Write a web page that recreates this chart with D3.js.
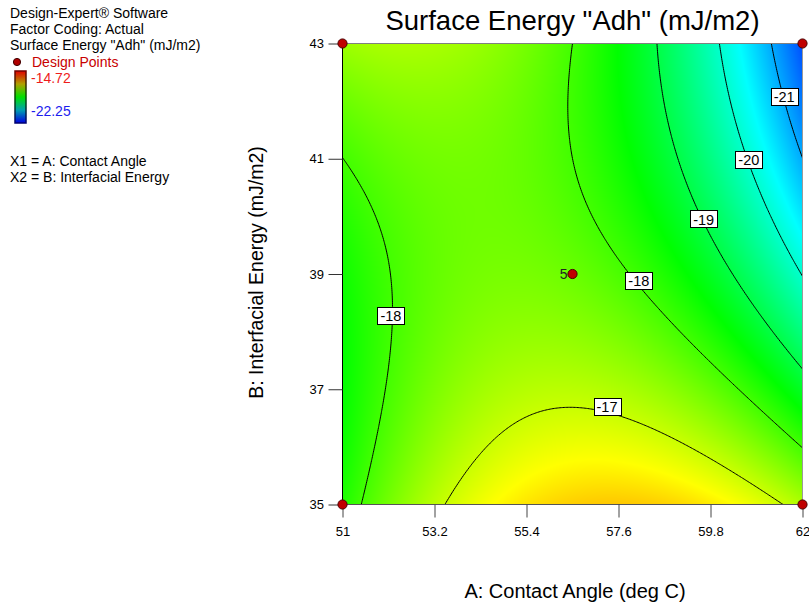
<!DOCTYPE html>
<html><head><meta charset="utf-8">
<script src="https://cdn.jsdelivr.net/npm/d3@7"></script>
<style>
body{margin:0;background:#fff}
svg{display:block;font-family:Arial,"Liberation Sans",sans-serif}
</style>
</head><body>
<svg id="chart" width="809" height="607"></svg>
<script>
// ---------------- data ----------------
const chartTitle = 'Surface Energy "Adh" (mJ/m2)';
const xTitle = "A: Contact Angle (deg C)";
const yTitle = "B: Interfacial Energy (mJ/m2)";
const xTicks = [51, 53.2, 55.4, 57.6, 59.8, 62];
const yTicks = [35, 37, 39, 41, 43];
const factorA = [51, 62];          // Contact angle range (actual)
const factorB = [35, 43];          // Interfacial energy range (actual)
// quadratic model in coded factors: Intercept, A, B, AB, A^2, B^2
const modelTerms = ["Intercept", "A", "B", "AB", "A2", "B2"];
const modelCoefs = [-17.706, -0.816, -0.881, -1.357, -1.50, 0.587];
const responseRange = [-22.25, -14.72];
const contourLevels = [-21, -20, -19, -18, -17];
const designA = [51, 51, 62, 62, 56.5];
const designB = [35, 43, 35, 43, 39];
const designCount = [1, 1, 1, 1, 5];
const labelLevels = [-21, -20, -19, -18, -18, -17];
const labelA = [61.58, 60.74, 59.66, 58.14, 52.12, 57.35];
const labelB = [42.07, 40.98, 39.96, 38.92, 38.28, 36.79];
const legendHeader = ["Design-Expert\u00AE Software", "Factor Coding: Actual", 'Surface Energy "Adh" (mJ/m2)'];
const legendFactors = ["X1 = A: Contact Angle", "X2 = B: Interfacial Energy"];

// ---------------- model ----------------
const midA = (factorA[0] + factorA[1]) / 2, halfA = (factorA[1] - factorA[0]) / 2;
const midB = (factorB[0] + factorB[1]) / 2, halfB = (factorB[1] - factorB[0]) / 2;
function predict(A, B) {
  const a = (A - midA) / halfA, b = (B - midB) / halfB;
  const t = [1, a, b, a * b, a * a, b * b];
  return d3.sum(t, (v, i) => v * modelCoefs[i]);
}

// ---------------- layout ----------------
const svg = d3.select("#chart");
const L = 342.5, R = 802.5, T = 43.5, B = 504.5;
const x = d3.scaleLinear(factorA, [L, R]);
const y = d3.scaleLinear(factorB, [B, T]);
const span = responseRange[1] - responseRange[0];
const color = d3.scaleLinear()
  .domain([0, 0.25, 0.5, 0.75, 1].map(t => responseRange[0] + t * span))
  .range(["#0000ff", "#00ffff", "#00ff00", "#ffff00", "#ff0000"])
  .clamp(true);

// ---------------- raster fill ----------------
const pxW = 461, pxH = 462, px0 = 342, py0 = 43;
const canvas = document.createElement("canvas");
canvas.width = pxW; canvas.height = pxH;
const ctx = canvas.getContext("2d");
const img = ctx.createImageData(pxW, pxH);
for (let j = 0; j < pxH; j++) {
  const Bv = y.invert(py0 + j + 0.5);
  for (let i = 0; i < pxW; i++) {
    const Av = x.invert(px0 + i + 0.5);
    const c = d3.rgb(color(predict(Av, Bv)));
    const k = (j * pxW + i) * 4;
    img.data[k] = c.r; img.data[k + 1] = c.g; img.data[k + 2] = c.b; img.data[k + 3] = 255;
  }
}
ctx.putImageData(img, 0, 0);
svg.append("image").attr("x", px0).attr("y", py0).attr("width", pxW).attr("height", pxH)
  .attr("preserveAspectRatio", "none")
  .attr("href", canvas.toDataURL());

// ---------------- contours ----------------
const aMin = factorA[0] - 0.5, aMax = factorA[1] + 0.5, bMin = factorB[0] - 0.5, bMax = factorB[1] + 0.5;
const nx = 361, ny = 271;
const grid = new Float64Array(nx * ny);
for (let j = 0; j < ny; j++) {
  const Bv = bMin + j * (bMax - bMin) / (ny - 1);
  for (let i = 0; i < nx; i++) {
    const Av = aMin + i * (aMax - aMin) / (nx - 1);
    grid[j * nx + i] = predict(Av, Bv);
  }
}
const gx = d3.scaleLinear([0.5, nx - 0.5], [aMin, aMax]);
const gy = d3.scaleLinear([0.5, ny - 0.5], [bMin, bMax]);
const contours = d3.contours().size([nx, ny]).thresholds(contourLevels)(grid);
const proj = d3.geoTransform({ point(px, py) { this.stream.point(x(gx(px)), y(gy(py))); } });
const path = d3.geoPath(proj);

svg.append("clipPath").attr("id", "plotclip").append("rect")
  .attr("x", L).attr("y", T).attr("width", R - L).attr("height", B - T);

const cg = svg.append("g").attr("clip-path", "url(#plotclip)");
cg.selectAll("path").data(contours).join("path")
  .attr("d", path).attr("fill", "none").attr("stroke", "#000").attr("stroke-width", 1);

// ---------------- frame & axes ----------------
svg.append("line").attr("x1", L - 0.5).attr("x2", R + 0.5).attr("y1", T).attr("y2", T).attr("stroke", "#808080");
svg.append("line").attr("x1", R).attr("x2", R).attr("y1", T).attr("y2", B).attr("stroke", "#9a9a9a");
svg.append("line").attr("x1", L - 0.5).attr("x2", R + 0.5).attr("y1", B).attr("y2", B).attr("stroke", "#555");
svg.append("line").attr("x1", L).attr("x2", L).attr("y1", T).attr("y2", B).attr("stroke", "#000");

const xAxis = svg.append("g").attr("transform", `translate(0,${B})`)
  .call(d3.axisBottom(x).tickValues(xTicks).tickSize(13).tickSizeOuter(0).tickPadding(9).tickFormat(d => String(d)));
xAxis.select(".domain").remove();
xAxis.selectAll("line").attr("stroke", "#444");
xAxis.selectAll("text").attr("font-size", 13).attr("font-family", "Arial, 'Liberation Sans', sans-serif").attr("fill", "#000");

const yAxis = svg.append("g").attr("transform", `translate(${L},0)`)
  .call(d3.axisLeft(y).tickValues(yTicks).tickSize(14).tickSizeOuter(0).tickPadding(4.5).tickFormat(d => String(d)));
yAxis.select(".domain").remove();
yAxis.selectAll("line").attr("stroke", "#333");
yAxis.selectAll("text").attr("font-size", 13).attr("font-family", "Arial, 'Liberation Sans', sans-serif").attr("fill", "#000");

// ---------------- contour labels ----------------
const ringPts = {};
contours.forEach(c => {
  const pts = [];
  c.coordinates.forEach(poly => poly.forEach(ring => ring.forEach(p => {
    const X = x(gx(p[0])), Y = y(gy(p[1]));
    if (X > L + 2 && X < R - 2 && Y > T + 2 && Y < B - 2) pts.push([X, Y]);
  })));
  ringPts[c.value] = pts;
});
const lg = svg.append("g");
labelLevels.forEach((lv, i) => {
  const tx = x(labelA[i]), ty = y(labelB[i]);
  const pts = ringPts[lv] || [];
  let best = [tx, ty], bd = Infinity;
  pts.forEach(p => { const d = (p[0] - tx) ** 2 + (p[1] - ty) ** 2; if (d < bd) { bd = d; best = p; } });
  // place midway between the read anchor and the nearest contour point
  const cx = (best[0] + tx) / 2, cy = (best[1] + ty) / 2;
  const g = lg.append("g");
  const t = g.append("text").attr("x", cx).attr("y", cy + 5.2)
    .attr("text-anchor", "middle").attr("font-size", 14.5).attr("fill", "#000").text(String(lv));
  const w = t.node().getComputedTextLength() + 6;
  g.insert("rect", "text")
    .attr("x", Math.round(cx - w / 2) + 0.5).attr("y", Math.round(cy - 9) + 0.5)
    .attr("width", Math.round(w)).attr("height", 17)
    .attr("fill", "#fff").attr("stroke", "#000").attr("stroke-width", 1);
});

// ---------------- design points ----------------
svg.append("g").selectAll("circle").data(designA.map((a, i) => [a, designB[i], designCount[i]])).join("circle")
  .attr("cx", d => x(d[0])).attr("cy", d => y(d[1])).attr("r", 4.6)
  .attr("fill", "#c00000").attr("stroke", "#4a0000").attr("stroke-width", 1);
svg.append("g").selectAll("text").data(designA.map((a, i) => [a, designB[i], designCount[i]]).filter(d => d[2] > 1)).join("text")
  .attr("x", d => x(d[0]) - 5).attr("y", d => y(d[1]) + 5)
  .attr("text-anchor", "end").attr("font-size", 14).attr("fill", "#222").text(d => d[2]);

// ---------------- titles ----------------
svg.append("text").attr("x", 572.5).attr("y", 30).attr("text-anchor", "middle")
  .attr("font-size", 27.5).attr("fill", "#000").text(chartTitle);
svg.append("text").attr("x", 575).attr("y", 598).attr("text-anchor", "middle")
  .attr("font-size", 20).attr("fill", "#000").text(xTitle);
svg.append("text").attr("transform", "translate(263,272.5) rotate(-90)").attr("text-anchor", "middle")
  .attr("font-size", 19.5).attr("fill", "#000").text(yTitle);

// ---------------- legend ----------------
const leg = svg.append("g").attr("font-size", 14);
legendHeader.forEach((s, i) => leg.append("text").attr("x", 10).attr("y", 18 + i * 16).attr("fill", "#000").text(s));
leg.append("circle").attr("cx", 17).attr("cy", 62).attr("r", 3.6).attr("fill", "#b00000").attr("stroke", "#400000");
leg.append("text").attr("x", 32).attr("y", 66.5).attr("fill", "#c80000").text("Design Points");
const defs = svg.append("defs");
const grad = defs.append("linearGradient").attr("id", "cbar").attr("x1", 0).attr("x2", 0).attr("y1", 0).attr("y2", 1);
[["0%", "#e00000"], ["25%", "#b0a000"], ["50%", "#00e000"], ["75%", "#00a0b0"], ["100%", "#0000e0"]]
  .forEach(s => grad.append("stop").attr("offset", s[0]).attr("stop-color", s[1]));
const grad2 = defs.append("linearGradient").attr("id", "cbar2").attr("x1", 0).attr("x2", 0).attr("y1", 0).attr("y2", 1);
[["0%", "#700000"], ["50%", "#005000"], ["100%", "#000070"]]
  .forEach(s => grad2.append("stop").attr("offset", s[0]).attr("stop-color", s[1]));
leg.append("rect").attr("x", 15).attr("y", 71).attr("width", 11).attr("height", 52)
  .attr("fill", "url(#cbar)").attr("stroke", "url(#cbar2)").attr("stroke-width", 1.5);
leg.append("text").attr("x", 31).attr("y", 83).attr("fill", "#ee1c1c").text(String(responseRange[1]));
leg.append("text").attr("x", 31).attr("y", 116).attr("fill", "#1c1cee").text(String(responseRange[0]));
legendFactors.forEach((s, i) => leg.append("text").attr("x", 10).attr("y", 165.5 + i * 16).attr("fill", "#000").text(s));
</script>
</body></html>
